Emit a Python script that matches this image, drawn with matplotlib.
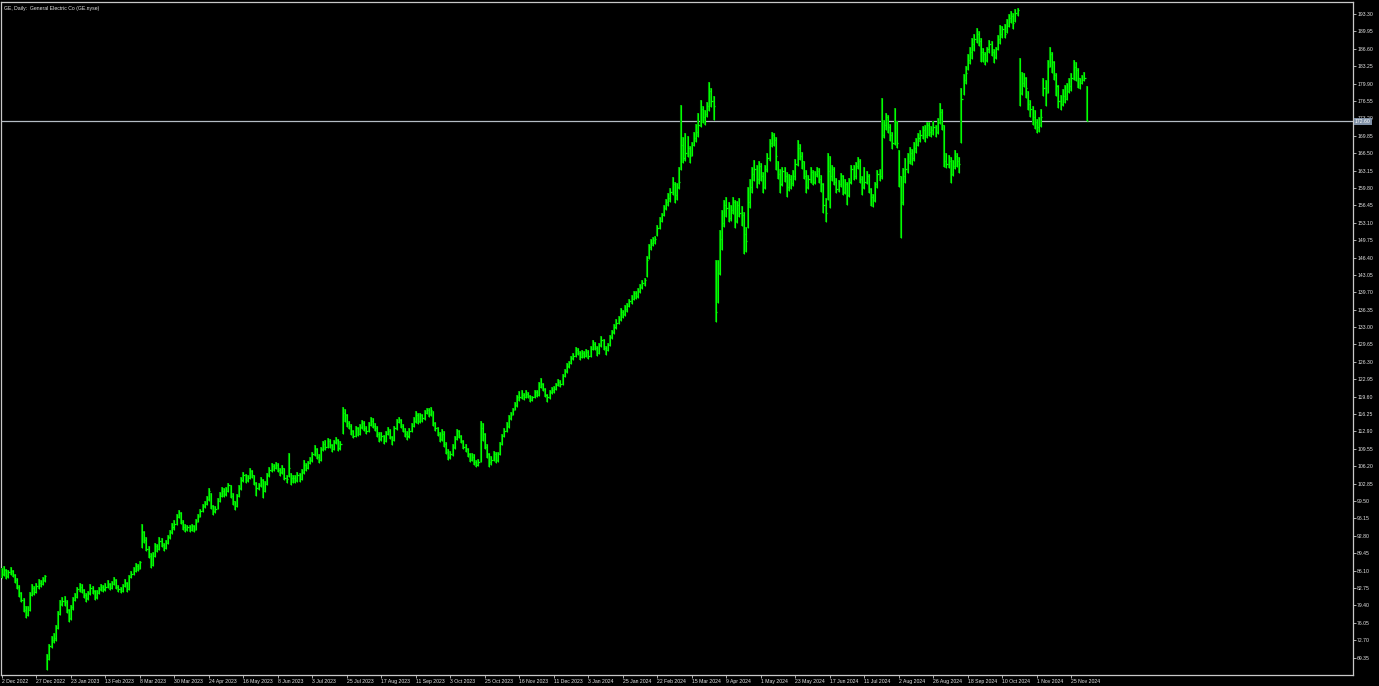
import matplotlib
matplotlib.use("Agg")
import matplotlib.pyplot as plt
import matplotlib.transforms as mtransforms
import numpy as np

title = "GE, Daily:  General Electric Co (GE.nyse)"

date_labels = ["2 Dec 2022", "27 Dec 2022", "23 Jan 2023", "13 Feb 2023", "8 Mar 2023",
               "30 Mar 2023", "24 Apr 2023", "16 May 2023", "8 Jun 2023", "3 Jul 2023",
               "25 Jul 2023", "17 Aug 2023", "11 Sep 2023", "3 Oct 2023", "25 Oct 2023",
               "16 Nov 2023", "11 Dec 2023", "3 Jan 2024", "25 Jan 2024", "22 Feb 2024",
               "15 Mar 2024", "9 Apr 2024", "1 May 2024", "23 May 2024", "17 Jun 2024",
               "11 Jul 2024", "2 Aug 2024", "26 Aug 2024", "18 Sep 2024", "10 Oct 2024",
               "1 Nov 2024", "25 Nov 2024"]
label_every = 16  # bars between date labels

price_labels = ["193.30", "189.95", "186.60", "183.25", "179.90", "176.55", "173.20",
                "169.85", "166.50", "163.15", "159.80", "156.45", "153.10", "149.75",
                "146.40", "143.05", "139.70", "136.35", "133.00", "129.65", "126.30",
                "122.95", "119.60", "116.25", "112.90", "109.55", "106.20", "102.85",
                "99.50", "96.15", "92.80", "89.45", "86.10", "82.75", "79.40", "76.05",
                "72.70", "69.35"]

last_price = 172.60

closes = [
    85.5, 86.3, 85.0, 85.8, 86.0, 85.2, 84.2, 83.0, 81.8, 80.5, 78.6, 77.6, 78.5, 81.5, 82.8, 82.0,
    83.2, 83.8, 83.5, 84.3, 85.0, 69.0, 71.5, 72.8, 73.2, 75.0, 77.8, 79.6, 80.3, 80.0, 78.5, 77.0,
    79.0, 80.5, 81.0, 82.5, 83.0, 82.3, 81.5, 80.8, 81.7, 82.8, 82.2, 81.0, 81.8, 82.5, 83.0, 82.6,
    83.0, 83.5, 82.8, 83.6, 84.2, 83.0, 82.5, 82.2, 83.2, 83.8, 82.5, 84.8, 85.5, 86.0, 87.0, 86.5,
    87.8, 93.5, 92.0, 90.3, 89.0, 87.2, 89.0, 90.8, 90.2, 91.8, 91.0, 90.5, 91.5, 92.5, 93.5, 94.5,
    95.0, 96.5, 97.2, 95.5, 94.5, 94.2, 94.5, 94.0, 94.6, 94.0, 95.5, 96.5, 97.5, 98.5, 99.0, 99.8,
    101.5, 98.5, 97.5, 98.0, 99.5, 100.5, 101.5, 100.8, 101.5, 102.5, 100.5, 99.5, 98.5, 100.5, 102.0, 103.5,
    104.5, 103.5, 104.0, 105.2, 104.5, 103.0, 102.0, 102.5, 103.5, 101.5, 102.8, 104.5, 105.5, 106.2, 105.8, 106.5,
    105.5, 105.0, 105.8, 104.0, 103.8, 105.8, 104.0, 104.0, 103.5, 104.5, 103.8, 105.0, 106.5, 105.8, 106.8, 107.5,
    108.5, 109.5, 108.0, 107.5, 109.5, 110.5, 110.0, 111.0, 110.2, 109.5, 110.8, 111.2, 109.8, 110.5, 116.5, 116.0,
    114.5, 114.0, 113.0, 112.0, 113.5, 112.5, 113.8, 114.5, 113.5, 113.0, 114.2, 115.0, 114.0, 113.5, 112.5, 111.5,
    112.0, 111.0, 112.5, 113.0, 111.8, 111.2, 113.5, 114.8, 115.2, 114.0, 113.0, 112.5, 112.0, 113.0, 114.0, 115.0,
    116.0, 115.0, 116.0, 115.5, 116.5, 117.0, 116.2, 117.0, 114.5, 113.5, 112.5, 111.5, 112.5, 110.5, 109.0, 108.0,
    108.5, 110.0, 111.5, 113.0, 112.0, 111.0, 110.0, 109.5, 108.5, 107.5, 108.0, 107.0, 106.5, 107.0, 113.5, 112.5,
    110.0, 108.5, 107.0, 107.5, 108.5, 107.5, 108.5, 110.5, 112.0, 113.0, 114.0, 115.5, 116.0, 117.0, 118.0, 119.5,
    119.5, 120.0, 119.5, 120.2, 119.8, 119.0, 119.5, 120.5, 120.0, 121.5, 122.0, 121.0, 120.0, 119.5, 120.5, 120.8,
    121.0, 121.8, 122.5, 122.0, 123.5, 124.5, 125.5, 126.0, 127.0, 127.5, 128.5, 128.0, 127.2, 128.0, 127.5, 128.2,
    127.5, 128.8, 129.8, 129.0, 128.0, 129.5, 130.5, 129.0, 128.5, 129.5, 131.0, 132.0, 133.0, 133.8, 134.5, 136.0,
    135.5, 136.5, 137.0, 138.0, 138.5, 139.5, 139.0, 140.0, 140.8, 141.5, 142.0, 146.0, 148.5, 149.2, 149.8, 150.0,
    152.0, 153.5, 154.5, 156.0, 157.0, 157.8, 159.0, 160.5, 158.5, 160.0, 161.0, 168.0, 165.5, 166.5, 167.5, 166.0,
    168.0, 169.5, 170.5, 172.0, 175.0, 173.5, 174.0, 175.5, 178.5, 176.5, 175.5, 136.0, 143.5, 150.0, 153.0, 156.5,
    156.0, 154.0, 155.5, 157.0, 153.5, 156.5, 155.0, 154.5, 151.0, 149.5, 157.0, 160.0, 162.5, 163.5, 161.5, 164.0,
    162.0, 160.0, 163.5, 165.5, 168.5, 170.0, 169.0, 166.0, 162.5, 160.5, 163.0, 162.0, 160.0, 161.5, 160.8, 162.0,
    164.5, 167.5, 166.0, 165.0, 162.0, 160.0, 161.5, 162.8, 161.0, 162.5, 163.0, 161.5, 160.5, 156.5, 155.0, 163.0,
    162.0, 163.5, 161.0, 159.5, 160.5, 162.0, 159.0, 160.5, 158.5, 161.0, 163.5, 162.0, 164.0, 165.0, 161.5, 160.0,
    161.0, 162.0, 159.5, 158.0, 157.5, 160.5, 162.5, 162.0, 170.0, 172.0, 173.5, 171.5, 170.0, 168.5, 172.5, 168.5,
    162.0, 157.0, 162.0, 163.5, 165.0, 166.5, 165.5, 167.5, 168.0, 169.5, 170.0, 171.0, 170.0, 172.0, 170.5, 171.0,
    171.5, 170.5, 172.5, 174.5, 172.0, 165.0, 164.5, 165.0, 162.5, 164.0, 166.0, 165.0, 164.5, 177.0, 180.5, 182.0,
    184.5, 186.0, 187.5, 188.5, 189.5, 188.0, 186.0, 185.5, 184.5, 186.5, 187.5, 186.0, 185.0, 186.5, 188.5, 189.5,
    190.5, 189.5, 191.0, 192.5, 193.0, 191.5, 193.5, 194.0, 178.0, 180.0, 181.0, 179.0, 176.0, 175.0, 173.5, 172.5,
    171.5, 172.0, 173.5, 179.0, 178.0, 183.0, 185.5, 184.0, 181.5, 179.5, 176.5, 176.0, 177.5, 177.0, 178.5, 179.5,
    181.0, 183.0, 182.5, 181.0, 180.0, 180.5, 181.0, 172.6,
]

highs = [
    86.6, 86.9, 86.5, 86.3, 86.8, 86.2, 85.4, 84.6, 83.3, 82.0, 80.8, 79.2, 79.3, 82.0, 83.5, 83.2,
    83.8, 84.4, 84.2, 84.9, 85.3, 70.0, 72.0, 73.5, 74.0, 75.6, 78.3, 80.5, 81.0, 81.2, 80.4, 78.8,
    79.5, 81.0, 81.8, 83.0, 83.8, 83.5, 82.6, 81.8, 82.2, 83.5, 83.2, 82.4, 82.3, 83.0, 83.6, 83.4,
    83.7, 84.3, 83.7, 84.1, 84.9, 84.4, 83.4, 83.0, 83.6, 84.4, 84.0, 85.2, 86.0, 86.8, 87.6, 87.4,
    88.0, 95.0, 93.8, 92.5, 90.8, 89.5, 89.6, 91.4, 91.2, 92.5, 92.3, 91.5, 92.0, 93.0, 94.0, 95.2,
    95.8, 97.0, 97.8, 97.4, 95.8, 95.0, 94.9, 94.8, 95.0, 94.8, 96.0, 97.0, 98.0, 99.0, 99.6, 100.5,
    102.0, 101.0, 98.8, 98.6, 100.0, 101.2, 102.2, 102.0, 102.2, 103.0, 102.6, 101.0, 99.6, 100.8, 102.5, 104.2,
    105.0, 104.8, 104.5, 105.9, 105.5, 104.6, 103.2, 103.0, 104.2, 103.7, 103.4, 104.9, 106.0, 106.8, 106.6, 107.0,
    106.8, 105.9, 106.4, 105.9, 104.6, 108.8, 104.9, 104.6, 104.5, 105.0, 104.9, 105.6, 107.5, 106.8, 107.2, 108.0,
    109.0, 110.2, 109.7, 108.5, 109.9, 111.0, 111.2, 111.6, 111.4, 110.5, 111.3, 111.8, 111.5, 111.0, 117.6, 117.2,
    116.3, 115.0, 114.4, 113.2, 114.0, 113.8, 114.4, 115.1, 115.0, 114.0, 114.8, 115.7, 115.4, 114.6, 114.0, 112.8,
    112.8, 112.3, 112.9, 113.8, 113.4, 112.0, 113.9, 115.3, 115.7, 115.3, 114.3, 113.6, 112.9, 113.5, 114.6, 115.6,
    116.8, 116.4, 116.5, 116.3, 117.0, 117.5, 117.4, 117.6, 116.8, 114.8, 113.8, 112.8, 113.3, 113.0, 110.8, 109.6,
    109.2, 110.5, 112.0, 113.3, 113.2, 112.3, 111.2, 110.4, 109.8, 108.8, 108.7, 108.5, 107.5, 107.6, 115.0, 114.5,
    112.6, 110.5, 108.8, 108.2, 109.2, 108.9, 109.0, 110.9, 112.5, 113.6, 114.8, 116.0, 116.6, 117.5, 118.6, 120.0,
    120.6, 120.9, 120.4, 120.8, 120.5, 119.9, 119.8, 120.9, 120.8, 122.4, 123.2, 122.3, 121.3, 120.2, 120.9, 121.5,
    121.7, 122.3, 123.0, 122.9, 123.9, 125.0, 126.1, 126.5, 127.4, 128.0, 129.2, 129.0, 128.3, 128.6, 128.4, 128.8,
    128.5, 129.3, 130.5, 130.2, 129.3, 129.9, 131.2, 130.8, 129.4, 130.0, 131.5, 132.4, 133.6, 134.5, 135.2, 136.6,
    136.3, 137.2, 137.6, 138.5, 139.1, 140.0, 140.0, 140.6, 141.3, 142.0, 142.5, 146.6, 149.0, 150.0, 150.3, 150.6,
    152.6, 154.2, 155.0, 156.6, 157.6, 158.8, 159.8, 161.9, 160.9, 160.7, 163.9, 175.8, 169.6, 170.4, 169.8, 167.9,
    168.7, 170.6, 172.2, 174.2, 176.7, 175.6, 174.8, 176.4, 180.2, 179.0, 177.5, 146.0, 145.9, 151.7, 155.6, 157.5,
    158.1, 157.0, 156.5, 158.0, 157.5, 157.3, 157.8, 156.4, 155.2, 152.3, 160.0, 161.5, 163.8, 165.2, 164.3, 165.0,
    164.6, 162.8, 164.2, 166.5, 169.2, 170.6, 170.4, 169.6, 164.9, 163.5, 163.8, 163.8, 162.8, 162.5, 162.3, 163.3,
    165.3, 169.0, 168.2, 166.8, 165.0, 163.2, 162.2, 163.8, 163.3, 163.1, 163.8, 163.6, 162.2, 160.8, 157.8, 166.5,
    166.0, 164.3, 163.9, 161.8, 161.3, 162.7, 162.3, 161.5, 160.9, 161.8, 164.3, 164.2, 164.8, 165.8, 165.3, 162.0,
    163.8, 163.0, 162.5, 159.8, 158.6, 161.0, 163.3, 163.5, 177.1, 172.8, 174.2, 173.8, 172.2, 170.6, 175.2, 172.6,
    167.1, 162.0, 163.6, 165.5, 166.6, 167.6, 167.3, 168.7, 169.5, 170.4, 171.0, 171.8, 171.9, 172.5, 172.4, 171.8,
    172.6, 172.0, 173.3, 176.2, 175.0, 172.0, 166.5, 166.1, 165.8, 165.2, 167.1, 166.6, 165.8, 179.0, 181.8, 183.2,
    185.5, 187.0, 188.6, 189.5, 190.6, 190.0, 188.6, 186.8, 186.0, 186.9, 188.3, 188.0, 186.5, 187.0, 189.2, 191.2,
    191.0, 191.3, 192.3, 193.3, 193.9, 193.4, 194.2, 194.5, 184.8, 182.2, 181.9, 181.2, 178.5, 176.7, 175.5, 174.8,
    173.0, 173.5, 175.0, 181.0, 180.5, 184.5, 187.0, 186.0, 184.2, 182.0, 179.6, 177.7, 178.8, 179.6, 180.0, 181.0,
    182.0, 184.4, 184.0, 182.8, 180.9, 181.6, 182.2, 179.4,
]

lows = [
    84.6, 85.0, 84.5, 84.7, 85.2, 84.8, 83.8, 82.5, 81.0, 80.0, 78.2, 77.0, 77.4, 78.4, 81.2, 81.4,
    81.8, 82.6, 83.0, 83.4, 84.0, 67.0, 68.8, 71.2, 72.2, 72.6, 74.8, 77.5, 79.2, 79.3, 78.0, 76.2,
    76.5, 78.6, 80.2, 80.8, 82.0, 81.8, 80.8, 80.0, 80.5, 81.4, 81.6, 80.4, 80.6, 81.6, 82.2, 82.0,
    82.2, 82.7, 82.3, 82.6, 83.4, 82.6, 82.0, 81.8, 82.0, 83.0, 82.0, 82.4, 84.6, 85.2, 85.8, 86.0,
    86.5, 90.5, 91.5, 89.8, 88.5, 86.6, 87.0, 88.8, 89.6, 90.0, 90.6, 89.8, 90.3, 91.3, 92.2, 93.2,
    94.0, 94.8, 96.2, 95.0, 94.0, 93.6, 93.8, 93.5, 93.8, 93.5, 94.0, 95.4, 96.4, 97.4, 98.2, 98.8,
    99.6, 98.0, 96.8, 97.2, 97.9, 99.4, 100.3, 100.2, 100.5, 101.3, 100.0, 98.8, 97.8, 98.3, 100.2, 101.6,
    103.2, 103.0, 103.1, 103.8, 104.0, 102.6, 100.5, 101.6, 102.2, 100.1, 101.2, 102.6, 104.2, 105.1, 105.2, 105.6,
    105.0, 104.4, 104.8, 103.6, 103.0, 104.2, 102.6, 103.0, 103.0, 103.2, 103.2, 103.6, 104.8, 105.3, 105.6, 106.6,
    107.0, 108.2, 107.6, 106.9, 107.3, 109.2, 109.4, 109.7, 109.8, 108.9, 109.3, 110.4, 109.2, 109.4, 112.5, 114.8,
    113.8, 113.4, 112.2, 111.6, 111.8, 112.0, 112.3, 113.4, 113.0, 112.5, 112.8, 114.0, 113.6, 112.9, 111.9, 110.8,
    111.0, 110.5, 110.8, 112.2, 111.4, 110.3, 111.0, 113.2, 114.5, 113.6, 112.7, 111.8, 111.3, 111.6, 112.8, 113.8,
    114.6, 114.4, 114.6, 114.8, 115.2, 116.2, 115.6, 115.8, 114.0, 113.0, 112.0, 110.9, 111.0, 110.0, 108.5, 107.4,
    107.6, 108.2, 109.6, 111.2, 111.6, 110.7, 109.5, 108.9, 108.0, 107.0, 107.2, 106.5, 106.1, 106.3, 107.0, 111.0,
    109.5, 107.8, 106.1, 106.5, 107.2, 106.8, 107.0, 108.3, 110.2, 111.8, 112.8, 113.6, 115.2, 116.0, 117.0, 117.6,
    118.8, 119.2, 118.9, 119.3, 119.3, 118.6, 118.8, 119.4, 119.5, 119.8, 121.3, 120.6, 119.6, 118.6, 119.2, 120.1,
    120.3, 120.8, 121.6, 121.5, 121.9, 123.3, 124.2, 125.1, 125.8, 126.7, 127.2, 127.6, 126.7, 127.0, 127.0, 127.2,
    126.8, 127.3, 128.6, 128.5, 127.4, 127.8, 129.2, 128.6, 127.6, 128.3, 129.3, 130.8, 131.6, 132.6, 133.5, 134.2,
    134.8, 135.2, 136.0, 136.8, 137.5, 138.3, 138.4, 138.6, 139.6, 140.3, 140.9, 142.7, 146.2, 147.8, 148.6, 149.0,
    150.5, 151.8, 153.2, 154.3, 155.5, 156.4, 157.0, 158.4, 156.9, 157.4, 159.5, 163.3, 164.6, 165.0, 165.8, 164.6,
    165.9, 167.8, 168.7, 169.6, 171.5, 172.3, 171.9, 173.4, 174.6, 175.4, 172.9, 134.0, 137.6, 143.0, 147.9, 152.3,
    154.2, 153.2, 153.4, 154.8, 152.0, 153.0, 154.2, 152.5, 147.0, 147.5, 152.0, 156.0, 158.8, 161.2, 159.8, 160.5,
    161.1, 158.8, 159.5, 162.9, 164.9, 167.6, 167.8, 163.3, 161.5, 158.9, 160.2, 161.0, 158.1, 159.3, 159.6, 160.2,
    161.3, 164.0, 165.2, 163.4, 161.5, 158.8, 159.5, 160.7, 160.3, 160.6, 161.9, 160.8, 159.0, 155.0, 153.2, 157.5,
    156.0, 161.2, 160.4, 158.8, 159.0, 160.0, 158.4, 158.6, 156.5, 158.0, 160.6, 161.3, 161.6, 163.4, 160.8, 158.5,
    159.6, 160.6, 158.9, 156.4, 156.1, 157.0, 159.8, 161.1, 161.6, 169.5, 171.0, 170.3, 168.8, 167.2, 168.0, 167.5,
    160.0, 150.2, 156.5, 160.8, 162.7, 164.5, 164.3, 165.0, 166.6, 167.8, 168.7, 169.3, 168.6, 169.5, 169.8, 169.6,
    170.0, 169.6, 170.1, 172.2, 171.0, 163.9, 163.7, 163.7, 160.8, 162.0, 163.5, 163.9, 162.7, 168.5, 177.6, 179.8,
    182.5, 183.6, 184.6, 186.2, 187.8, 187.2, 184.1, 184.0, 183.5, 184.0, 185.8, 185.2, 183.8, 184.7, 186.3, 187.5,
    188.6, 188.7, 189.6, 190.8, 191.6, 190.5, 191.8, 193.0, 175.5, 177.6, 179.2, 177.2, 174.8, 173.5, 172.0, 171.2,
    170.4, 170.6, 171.5, 177.5, 175.5, 178.0, 183.0, 182.0, 180.5, 177.5, 175.2, 174.8, 175.5, 176.2, 176.7, 178.0,
    178.4, 180.6, 180.3, 179.0, 178.9, 179.8, 180.3, 172.6,
]

# ---------------------------------------------------------------- styling
BG = "#000000"
BAR = "#00ff00"
BAR_DARK = "#009a00"
FRAME = "#c8c8c8"
TXT = "#e6e6e6"
FONT = ["Liberation Sans", "DejaVu Sans"]
FS = 3.7

W, H = 1379, 686
fig = plt.figure(figsize=(W / 100, H / 100), dpi=100, facecolor=BG)
left_px, right_px, top_px, bottom_px = 1, 1353, 1.5, 675
ax = fig.add_axes([left_px / W, (H - bottom_px) / H,
                   (right_px - left_px) / W, (bottom_px - top_px) / H])
ax.set_facecolor(BG)

n = len(closes)
x = np.arange(n)

# soft dark-green halo under each bar, bright lime core on top
ax.vlines(x, lows, highs, color=BAR_DARK, linewidth=1.5, zorder=3)
ax.vlines(x, lows, highs, color=BAR, linewidth=0.8, zorder=4)
ax.hlines(closes, x, x + 0.55, color=BAR, linewidth=0.9, zorder=4)

# current price line
ax.axhline(last_price, color="#b4bcc4", linewidth=0.9, zorder=2)

ax.set_xlim(-0.46, 626.6)
ax.set_ylim(66.0, 195.7)

# y axis on the right
ax.yaxis.tick_right()
yt = [float(s) for s in price_labels]
ax.set_yticks(yt)
ax.set_yticklabels(price_labels)
ax.tick_params(axis="y", direction="out", length=2.2, width=0.6, color=FRAME,
               labelcolor=TXT, labelsize=FS, pad=0.8)

# x axis labels
xt = [k * label_every for k in range(len(date_labels))]
ax.set_xticks(xt)
ax.set_xticklabels(date_labels)
ax.tick_params(axis="x", direction="out", length=2.2, width=0.6, color=FRAME,
               labelcolor=TXT, labelsize=FS, pad=0.6)
for lab in ax.get_xticklabels():
    lab.set_horizontalalignment("left")
for lab in ax.get_xticklabels() + ax.get_yticklabels():
    lab.set_family(FONT)

for sp in ax.spines.values():
    sp.set_color(FRAME)
    sp.set_linewidth(0.9)

# price label box
trans = mtransforms.blended_transform_factory(ax.transAxes, ax.transData)
ax.text(1.0015, last_price, f"{last_price:.2f}", transform=trans, ha="left", va="center",
        fontsize=FS, family=FONT, color="#ffffff", clip_on=False, zorder=10,
        bbox=dict(boxstyle="square,pad=0.25", facecolor="#7f90a6", edgecolor="none"))

# title
ax.text(0.0025, 0.993, title, transform=ax.transAxes, ha="left", va="top",
        fontsize=FS, family=FONT, color=TXT)

fig.savefig("out.png", dpi=100, facecolor=BG)
